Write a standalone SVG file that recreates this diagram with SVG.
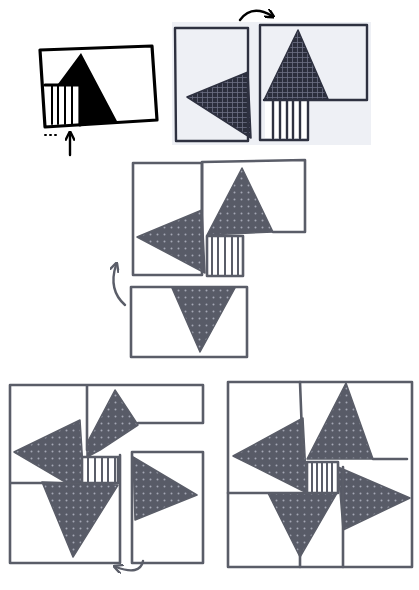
<svg xmlns="http://www.w3.org/2000/svg" width="419" height="590" viewBox="0 0 419 590">
<style>
.ink{fill:none;stroke:#000;stroke-width:3.2;stroke-linejoin:round;stroke-linecap:round}
.ink2{fill:none;stroke:#2e3140;stroke-width:2.4;stroke-linejoin:round;stroke-linecap:round}
.gr{fill:none;stroke:#5a5d68;stroke-width:2.6;stroke-linejoin:round;stroke-linecap:round}
.stripe{stroke-width:2}
.tri{fill:url(#dots);stroke:#5a5d68;stroke-width:1.5;stroke-linejoin:round}
.tri2{fill:url(#hatch);stroke:#2e3140;stroke-width:1.5;stroke-linejoin:round}
.arr{fill:none;stroke-width:2.4;stroke-linecap:round}
</style>
<defs>
<pattern id="dots" width="7" height="7" patternUnits="userSpaceOnUse">
<rect width="7" height="7" fill="#585b67"/>
<circle cx="3.5" cy="3.5" r="1" fill="#a4a7b4"/>
</pattern>
<pattern id="hatch" width="5" height="5" patternUnits="userSpaceOnUse">
<rect width="5" height="5" fill="#2b2e3c"/>
<path d="M0 2.5H5M2.5 0V5" stroke="#6c7084" stroke-width="0.8"/>
</pattern>
<marker id="ahB" viewBox="0 0 10 10" refX="7" refY="5" markerWidth="4" markerHeight="4" orient="auto"><path d="M0 0L10 5L0 10" fill="none" stroke="#000" stroke-width="2.5"/></marker>
<marker id="ahG" viewBox="0 0 10 10" refX="7" refY="5" markerWidth="4" markerHeight="4" orient="auto"><path d="M0 0L10 5L0 10" fill="none" stroke="#5a5d68" stroke-width="2.5"/></marker>
</defs>
<rect width="419" height="590" fill="#fff"/>

<g id="panel1">
<polygon points="81,53 118,123 80,125 80,85 58,84 64,76" fill="#000"/>
<rect x="45" y="85" width="35" height="40" fill="#fff"/>
<path class="ink stripe" d="M52 86V124M58 86V124M65 86V124M72 86V124"/>
<path class="ink" d="M45 85H80V125"/>
<path class="ink" d="M40 50L152 46L157 120L45 127Z"/>
<path d="M45 135h1M50 135h1M55 135h1" stroke="#000" stroke-width="2" stroke-linecap="round"/>
</g>

<g id="panel2">
<rect x="172" y="22" width="199" height="123" fill="#eef0f5"/>
<polygon class="tri2" points="187,97 248,72 251,138"/>
<path class="ink2" d="M175 28H248V141H176Z"/>
<polygon class="tri2" points="298,30 328,99 264,100"/>
<rect x="265" y="100" width="43" height="38" fill="#fff"/>
<path class="ink2" d="M273 100V138M280 100V138M287 100V138M293 100V138M300 100V138"/>
<path class="ink2" d="M260 25H367V100H264M260 25V140H308V100"/>
</g>

<g id="panel3">
<polygon class="tri" points="137,237 202,210 205,273"/>
<polygon class="tri" points="242,168 273,232 207,235"/>
<rect x="207" y="236" width="36" height="40" fill="#fff"/>
<path class="gr stripe" d="M212 236V276M218 236V276M225 236V276M232 236V276M238 236V276"/>
<path class="gr" d="M207 236H243V276H207Z"/>
<path class="gr" d="M133 163H202V275H133Z"/>
<path class="gr" d="M202 162L305 160V232H273M202 162V235"/>
<polygon class="tri" points="172,288 235,288 200,352"/>
<path class="gr" d="M131 287H247V357H131Z"/>
</g>

<g id="panel4">
<polygon class="tri" points="14,452 80,420 84,483 72,486"/>
<polygon class="tri" points="115,390 138,425 100,450 87,457 87,443"/>
<polygon class="tri" points="42,482 118,485 73,557"/>
<rect x="82" y="457" width="36" height="26" fill="#fff"/>
<path class="gr stripe" d="M88 457V483M95 457V483M102 457V483M108 457V483M115 457V483"/>
<path class="gr" d="M82 457H118V483H82Z"/>
<path class="gr" d="M10 385H203V423H138M87 385V450M10 385V563H120V455M10 483H70"/>
<polygon class="tri" points="133,457 197,495 135,520"/>
<path class="gr" d="M132 452H203V563H132Z"/>
</g>

<g id="panel5">
<polygon class="tri" points="233,456 303,418 307,493"/>
<polygon class="tri" points="346,383 373,459 307,459"/>
<polygon class="tri" points="410,498 338,467 343,530"/>
<polygon class="tri" points="268,493 337,493 300,557"/>
<rect x="307" y="462" width="31" height="31" fill="#fff"/>
<path class="gr stripe" d="M312 462V493M317 462V493M322 462V493M327 462V493M332 462V493"/>
<path class="gr" d="M307 462H338V493H307Z"/>
<path class="gr" d="M228 382H412V567H228Z"/>
<path class="gr" d="M300 382L303 460M373 459H407M228 493H307M343 467V567M300 550V567"/>
</g>

<g id="connectors">
<path class="arr" stroke="#000" d="M70 155V134" marker-end="url(#ahB)"/>
<path class="arr" stroke="#000" stroke-width="3" d="M240 20Q252 4 272 16" marker-end="url(#ahB)"/>
<path class="arr" stroke="#5a5d68" d="M125 305Q108 290 116 265" marker-end="url(#ahG)"/>
<path class="arr" stroke="#5a5d68" d="M143 561Q140 576 116 567" marker-end="url(#ahG)"/>
</g>
</svg>
